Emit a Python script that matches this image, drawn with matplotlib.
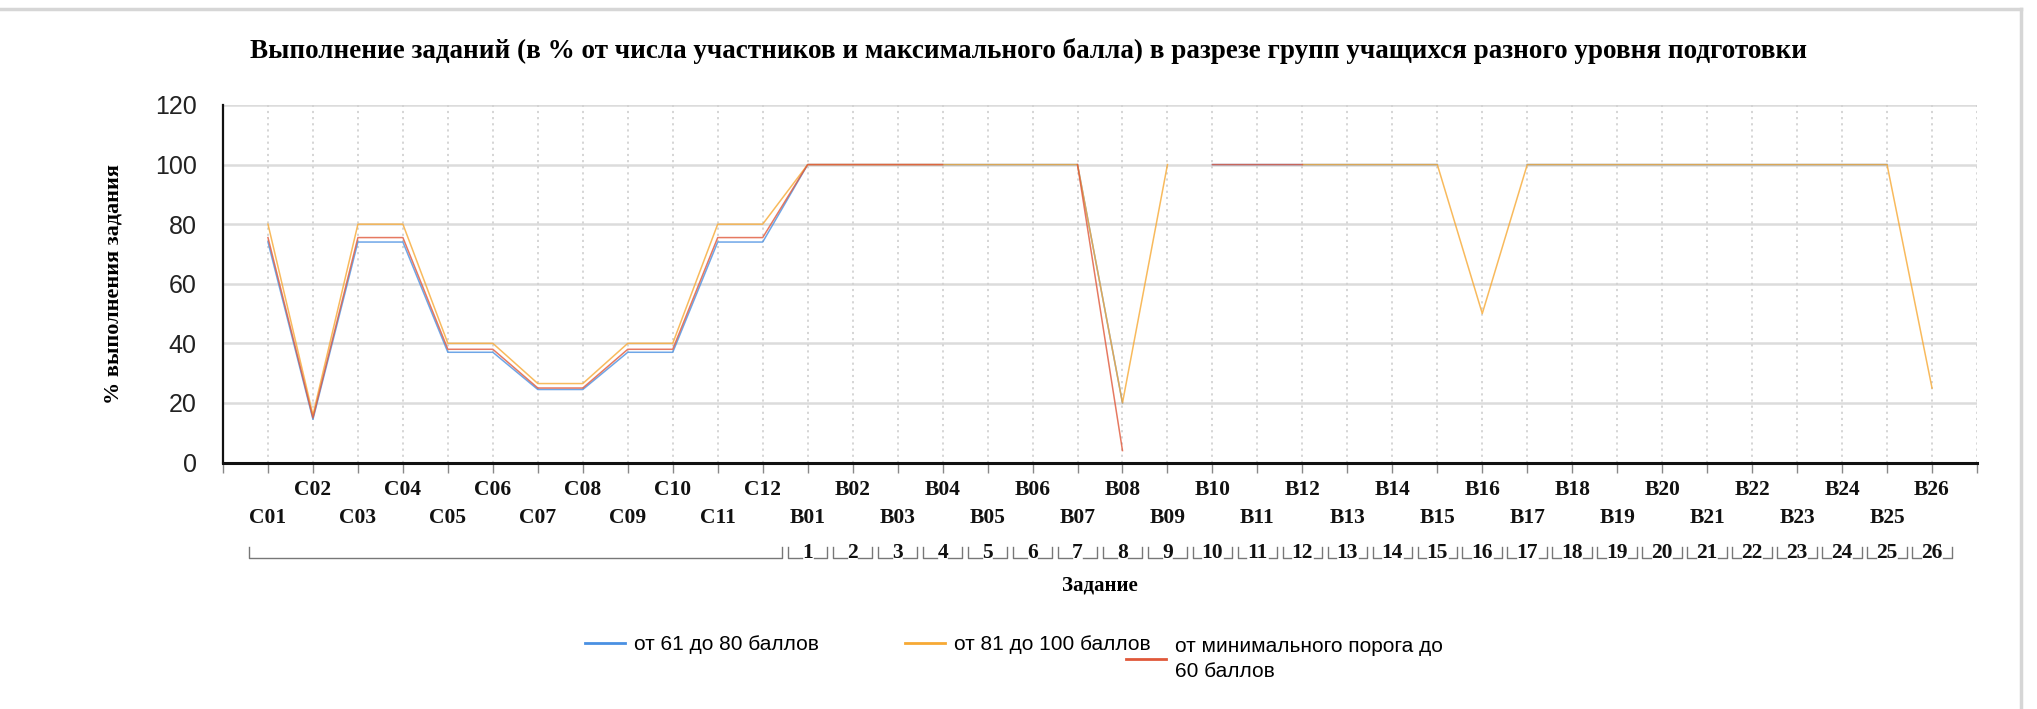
import numpy as np
import matplotlib
matplotlib.use("Agg")
import matplotlib.pyplot as plt
from matplotlib.transforms import blended_transform_factory
from matplotlib.lines import Line2D

nan = np.nan
tasks = ["C01", "C02", "C03", "C04", "C05", "C06", "C07", "C08", "C09", "C10", "C11", "C12"] + \
        ["B%02d" % i for i in range(1, 27)]
group_numbers = [str(i) for i in range(1, 27)]

s_61_80 = [74, 14.5, 74, 74, 37, 37, 24.5, 24.5, 37, 37, 74, 74,
           100, 100, 100, 100, 100, 100, 100, 20, nan, 100, 100, 100, 100, 100, 100, nan,
           100, 100, 100, 100, 100, 100, 100, 100, 100, nan]
s_81_100 = [80, 16, 80, 80, 40, 40, 26.5, 26.5, 40, 40, 80, 80,
            100, 100, 100, 100, 100, 100, 100, 20, 100, nan, nan, 100, 100, 100, 100, 50,
            100, 100, 100, 100, 100, 100, 100, 100, 100, 25]
s_min_60 = [75.5, 15, 75.5, 75.5, 38, 38, 25, 25, 38, 38, 75.5, 75.5,
            100, 100, 100, 100, nan, nan, 100, 4, nan, 100, 100, 100, nan, nan, nan, nan,
            nan, nan, nan, nan, nan, nan, nan, nan, nan, nan]

labels = ["от 61 до 80 баллов", "от 81 до 100 баллов", "от минимального порога до\n60 баллов"]
colors = ["#4a90e2", "#f7a934", "#e0583a"]

title = "Выполнение заданий (в % от числа участников и максимального балла) в разрезе групп учащихся разного уровня подготовки"
ylabel = "% выполнения задания"
xlabel = "Задание"

W, H = 2037, 709
fig = plt.figure(figsize=(W / 100, H / 100), dpi=100)
ax = fig.add_axes([223 / W, 1 - 462.5 / H, (1977 - 223) / W, (462.5 - 105) / H])

x = np.arange(len(tasks))
lines = []
for vals, c, lab in zip([s_61_80, s_81_100, s_min_60], colors, labels):
    ln, = ax.plot(x, vals, color=c, lw=1.1, alpha=0.8, label=lab, zorder=3)
    lines.append(ln)

ax.set_xlim(-1, len(tasks))
ax.set_ylim(0, 120)
ax.set_yticks(np.arange(0, 121, 20))
ax.set_xticks(np.arange(-1, len(tasks) + 1))
ax.set_xticklabels([])
ax.tick_params(axis="x", direction="out", length=7, width=1, color="#888888")
ax.tick_params(axis="y", length=0, pad=19, labelsize=18, labelcolor="#222222")
for t in ax.get_yticklabels():
    t.set_family("Liberation Sans")

for yv in np.arange(20, 121, 20):
    ax.axhline(yv, color="#dcdcdc", lw=1.8, zorder=1)
for xv in np.arange(0, len(tasks) + 1):
    ax.axvline(xv, color="#d2d2d2", lw=1.3, ls=(0, (1.2, 2.2)), zorder=1)

for sp in ["top", "right"]:
    ax.spines[sp].set_visible(False)
ax.spines["left"].set_linewidth(1.6)
ax.spines["bottom"].set_linewidth(2.2)
ax.spines["left"].set_color("#111111")
ax.spines["bottom"].set_color("#111111")

trans = blended_transform_factory(ax.transData, ax.transAxes)
serif = "Liberation Serif"
for i, lab in enumerate(tasks):
    yy = -0.077 if i % 2 == 1 else -0.155
    ax.text(i, yy, lab, transform=trans, ha="center", va="center",
            fontsize=15.5, fontweight="bold", family=serif, color="#111111")

# group brackets
yb_bot, yb_top = -0.268, -0.235
c_start = 0 - 0.42
c_end = 11 + 0.42
ax.plot([c_start, c_start, c_end, c_end], [yb_top, yb_bot, yb_bot, yb_top], transform=trans,
        color="#777777", lw=1.0, clip_on=False)
for j, num in enumerate(group_numbers):
    xc = 12 + j
    hw = 0.44
    gap = 0.13 if len(num) == 1 else 0.25
    ax.plot([xc - hw, xc - hw, xc - gap], [yb_top, yb_bot, yb_bot], transform=trans,
            color="#777777", lw=1.0, clip_on=False)
    ax.plot([xc + gap, xc + hw, xc + hw], [yb_bot, yb_bot, yb_top], transform=trans,
            color="#777777", lw=1.0, clip_on=False)
    ax.text(xc, -0.252, num, transform=trans, ha="center", va="center",
            fontsize=15.5, fontweight="bold", family=serif, color="#111111")

fig.text(1100 / W, 1 - 585 / H, xlabel, ha="center", va="center", fontsize=15,
         fontweight="bold", family=serif)
fig.text(113 / W, 1 - 284 / H, ylabel, ha="center", va="center", rotation=90,
         fontsize=16, fontweight="bold", family=serif)
fig.text(1028 / W, 1 - 51 / H, title, ha="center", va="center", fontsize=19.5,
         fontweight="bold", family=serif)

# legends
leg_pos = [(585, 645), (905, 645), (1126, 659)]
for ln, (lx, ly) in zip(lines, leg_pos):
    h = Line2D([], [], color=ln.get_color(), lw=2)
    lg = fig.legend([h], [ln.get_label()], loc="center left",
                    bbox_to_anchor=(lx / W, 1 - ly / H), frameon=False, borderpad=0,
                    handlelength=1.9, handletextpad=0.45, borderaxespad=0,
                    prop={"family": "Liberation Sans", "size": 15})
    for t in lg.get_texts():
        t.set_linespacing(1.45)

# frame lines
fig.add_artist(Line2D([0, 2021 / W], [1 - 9 / H, 1 - 9 / H], color="#d6d6d6", lw=2.5))
fig.add_artist(Line2D([2021 / W, 2021 / W], [1 - 9 / H, 0], color="#d6d6d6", lw=2.5))

fig.savefig("out.png", dpi=100)
